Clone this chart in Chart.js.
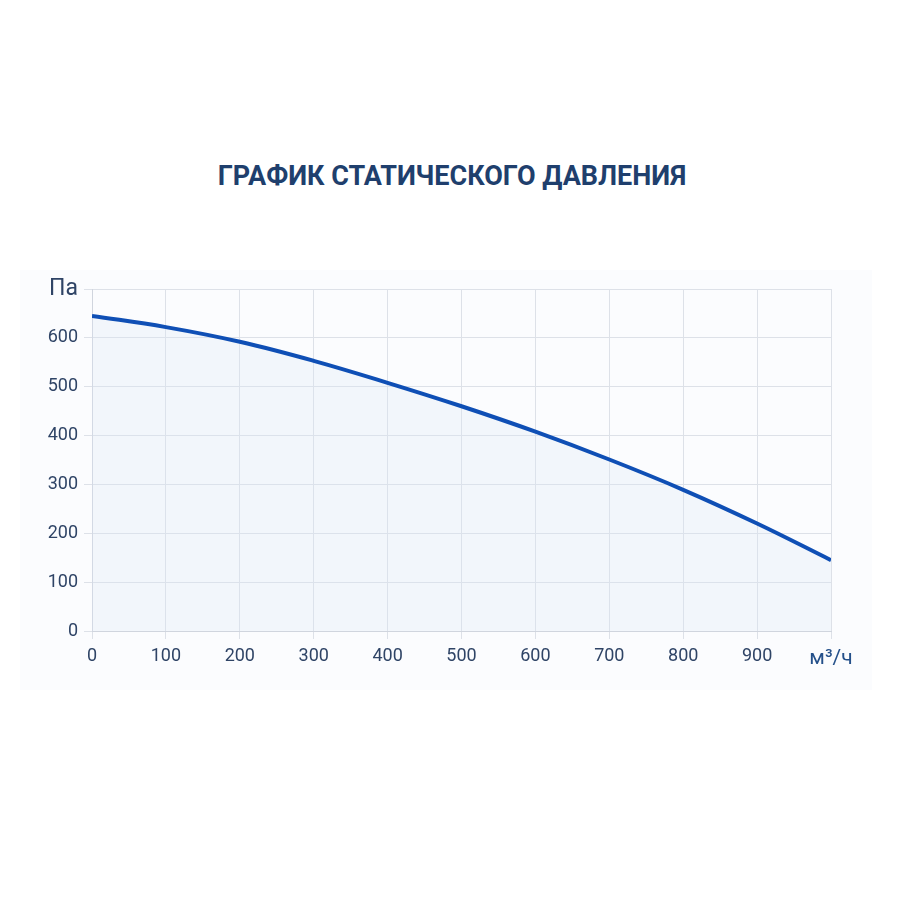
<!DOCTYPE html>
<html>
<head>
<meta charset="utf-8">
<script src="https://cdn.jsdelivr.net/npm/chart.js@4"></script>
<style>
  html, body { margin: 0; padding: 0; background: #ffffff; }
  #wrap { position: relative; width: 900px; height: 900px; }
  #panel { position: absolute; left: 20px; top: 270px; width: 852px; height: 420px; background: #fbfcfe; }
  #title { position: absolute; left: 0; top: 160px; width: 904px; text-align: center;
           font-family: Roboto, sans-serif; font-weight: bold; font-size: 27px; color: #1f3f6d; }
  canvas { position: absolute; left: 0; top: 0; }
</style>
</head>
<body>
<div id="wrap">
  <div id="panel"></div>
  <div id="title"></div>
  <canvas id="pressureChart" width="900" height="900"></canvas>
</div>
<script>
// Airflow, m3/h
const flowValues = [0, 100, 200, 300, 400, 500, 600, 700, 800, 900, 1000];
// Static pressure, Pa
const pressureValues = [645, 622, 592, 553, 508, 460, 408, 351, 289, 220, 145];
const xUnit = "м³/ч";
const yUnit = "Па";
const chartTitle = "ГРАФИК СТАТИЧЕСКОГО ДАВЛЕНИЯ";

document.getElementById("title").textContent = chartTitle;

const points = flowValues.map((x, i) => ({ x: x, y: pressureValues[i] }));

const ctx = document.getElementById("pressureChart").getContext("2d");
new Chart(ctx, {
    type: "line",
    data: {
        datasets: [
            {
                data: points,
                borderColor: "#0f4fb5",
                borderWidth: 4,
                backgroundColor: "rgba(220, 230, 246, 0.28)",
                fill: "origin",
                tension: 0.4,
                pointRadius: 0,
            },
        ],
    },
    options: {
        responsive: false,
        animation: false,
        layout: { padding: { left: 20, right: 69, top: 289, bottom: 209 } },
        plugins: {
            legend: { display: false },
            tooltip: { enabled: false },
        },
        scales: {
            x: {
                type: "linear",
                min: 0,
                max: 1000,
                ticks: {
                    stepSize: 100,
                    color: (c) => (c.tick && c.tick.value === 1000 ? "#24508a" : "#2f4466"),
                    font: (c) => ({ family: "Roboto", size: c.tick && c.tick.value === 1000 ? 21 : 18 }),
                    padding: 7,
                    maxRotation: 0,
                    callback: (v) => (v === 1000 ? xUnit : v),
                },
                grid: { color: "#dde1e8", tickLength: 8 },
                border: { color: "#d0d5de" },
                afterFit: (s) => { s.height = 60; },
            },
            y: {
                min: 0,
                max: 700,
                ticks: {
                    stepSize: 100,
                    color: "#2f4466",
                    font: (c) => ({ family: "Roboto", size: c.tick && c.tick.value === 700 ? 23 : 18 }),
                    padding: 6,
                    callback: (v) => (v === 700 ? yUnit : v),
                },
                grid: { color: "#dde1e8", tickLength: 8 },
                border: { color: "#d0d5de" },
                afterFit: (s) => { s.width = 72; },
            },
        },
    },
});
</script>
</body>
</html>
